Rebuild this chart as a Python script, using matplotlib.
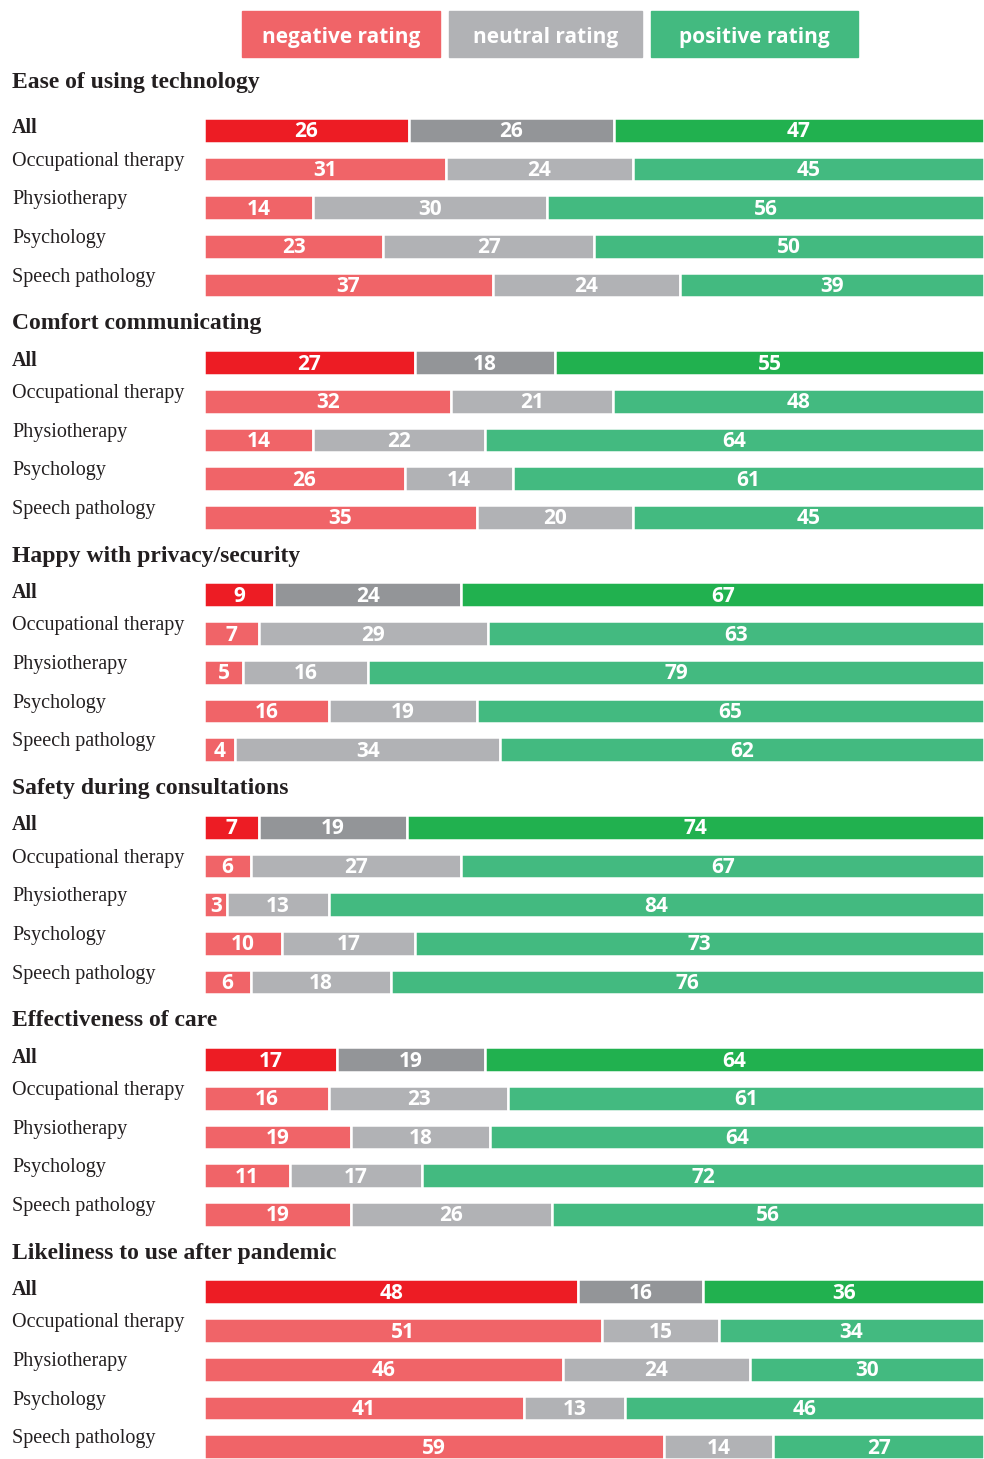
import matplotlib
matplotlib.use("Agg")
import matplotlib.pyplot as plt
from matplotlib.patches import Rectangle
import numpy as np

# data
sections = ["Ease of using technology", "Comfort communicating",
            "Happy with privacy/security", "Safety during consultations",
            "Effectiveness of care", "Likeliness to use after pandemic"]
groups = ["All", "Occupational therapy", "Physiotherapy", "Psychology", "Speech pathology"]

negative = [[26, 31, 14, 23, 37],
            [27, 32, 14, 26, 35],
            [9, 7, 5, 16, 4],
            [7, 6, 3, 10, 6],
            [17, 16, 19, 11, 19],
            [48, 51, 46, 41, 59]]
neutral = [[26, 24, 30, 27, 24],
           [18, 21, 22, 14, 20],
           [24, 29, 16, 19, 34],
           [19, 27, 13, 17, 18],
           [19, 23, 18, 17, 26],
           [16, 15, 24, 13, 14]]
positive = [[47, 45, 56, 50, 39],
            [55, 48, 64, 61, 45],
            [67, 63, 79, 65, 62],
            [74, 67, 84, 73, 76],
            [64, 61, 64, 72, 56],
            [36, 34, 30, 46, 27]]

legend_labels = ["negative rating", "neutral rating", "positive rating"]

# colours: (All row, group rows)
col_neg = ("#ED1C24", "#F06468")
col_neu = ("#939598", "#B1B2B5")
col_pos = ("#21B14F", "#43BA80")

W, H = 984, 1459
fig = plt.figure(figsize=(W / 100, H / 100), dpi=100)

slot = 38.72
y0 = 91.5
ax = fig.add_axes([204 / W, 0, 1 - 204 / W, 1])
ax.set_ylim((H - y0) / slot, -y0 / slot)
ax.set_xlim(0, 100)
ax.axis("off")

serif = ["Liberation Serif", "DejaVu Serif"]
sans = ["Open Sans", "DejaVu Sans"]

for s, title in enumerate(sections):
    base = s * 6
    toff = -0.22 if s == 0 else 0.0
    fig.text(12 / W, 1 - (y0 + (base + toff) * slot) / H, title, family=serif,
             weight="bold", fontsize=17, va="center", ha="left", color="#231F20")
    for g, grp in enumerate(groups):
        k = base + 1 + g
        vals = np.array([negative[s][g], neutral[s][g], positive[s][g]], dtype=float)
        widths = vals / vals.sum() * 100
        lefts = np.concatenate([[0], np.cumsum(widths)[:-1]])
        idx = 0 if g == 0 else 1
        cols = [col_neg[idx], col_neu[idx], col_pos[idx]]
        ax.barh([k] * 3, widths, left=lefts, height=0.64, color=cols,
                edgecolor="white", linewidth=1.8)
        for v, w, l in zip(vals, widths, lefts):
            ax.text(l + w / 2, k + 0.04, f"{int(v)}", ha="center", va="center",
                    color="white", family=sans, weight="bold", fontsize=15)
        off = -0.05 if g == 0 else -0.2
        fig.text(12 / W, 1 - (y0 + (k + off) * slot) / H, grp, family=serif,
                 weight="bold" if g == 0 else "normal", fontsize=14.5,
                 va="center", ha="left", color="#231F20")

# legend boxes
boxes = [(242, 440), (449, 642), (651, 858)]
leg_cols = [col_neg[1], col_neu[1], col_pos[1]]
for (x1, x2), c, lab in zip(boxes, leg_cols, legend_labels):
    fig.patches.append(Rectangle((x1 / W, 1 - 57 / H), (x2 - x1) / W, 46 / H,
                                 transform=fig.transFigure, color=c))
    fig.text((x1 + x2) / 2 / W, 1 - 37 / H, lab, family=sans, weight="bold",
             fontsize=15, color="white", ha="center", va="center")

fig.savefig("out.png", dpi=100)
